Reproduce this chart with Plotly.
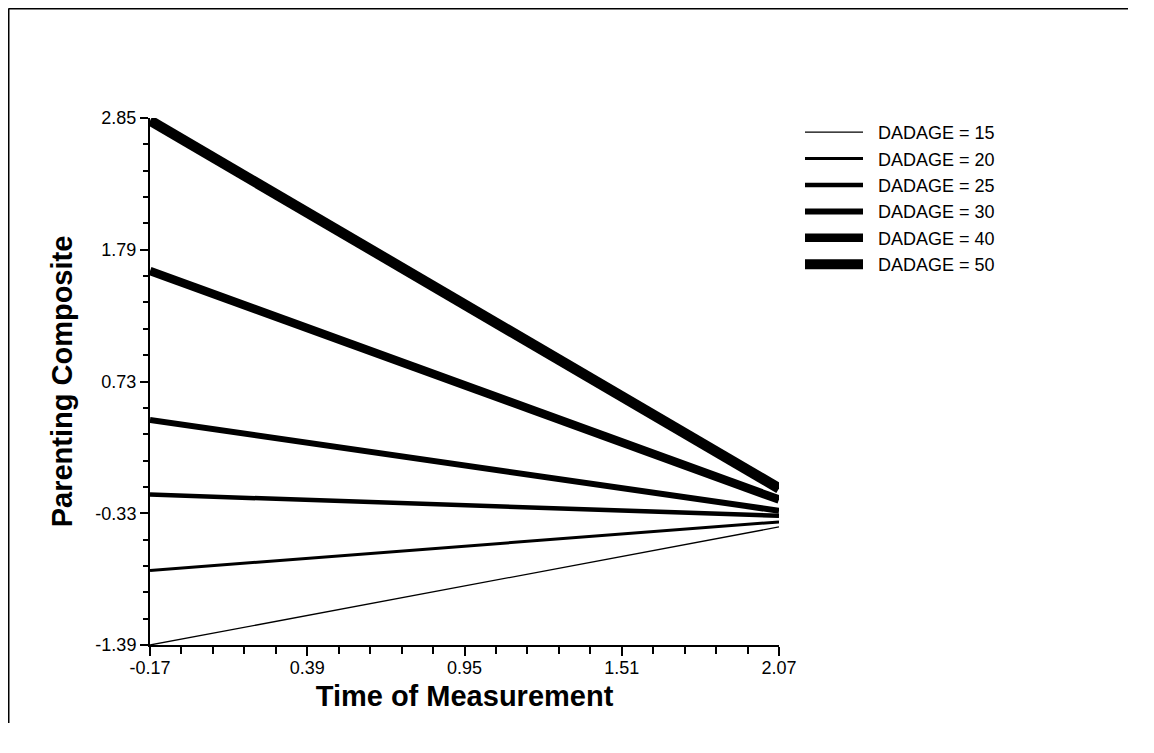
import plotly.graph_objects as go

# ---- data ----
dadage = [15, 20, 25, 30, 40, 50]
time_points = [-0.17, 2.07]
start_values = [-1.39, -0.79, -0.18, 0.42, 1.62, 2.83]   # at time = -0.17
end_values = [-0.44, -0.40, -0.35, -0.31, -0.22, -0.13]  # at time = 2.07

x_ticks = [-0.17, 0.39, 0.95, 1.51, 2.07]
y_ticks = [-1.39, -0.33, 0.73, 1.79, 2.85]

# ---- styling ----
line_widths = [1.3, 3, 4.5, 6, 8.5, 10.5]
FONT = "Liberation Sans, Arial, sans-serif"

# the page body adds an 8px margin, so the figure is laid out in its own coords
W, H = 1120, 715
L, T = 142, 110
PR, PB = 771, 637            # plot right / bottom in figure px
R, B = W - PR, H - PB
pw, ph = PR - L, PB - T


def px_x(v):
    return (v - L) / pw


def px_y(v):
    return (PB - v) / ph


fig = go.Figure()
for i, d in enumerate(dadage):
    fig.add_trace(go.Scatter(
        x=time_points,
        y=[start_values[i], end_values[i]],
        mode="lines",
        name="\u00a0\u00a0" + f"DADAGE = {d}",
        legendgroup=str(d),
        line=dict(color="black", width=line_widths[i]),
    ))

axis_common = dict(showgrid=False, zeroline=False, showline=True,
                   linecolor="black", linewidth=2, ticks="outside",
                   tickcolor="black", tickwidth=2,
                   tickfont=dict(family=FONT, size=18, color="black"))

fig.update_layout(
    width=W, height=H,
    margin=dict(l=L, r=R, t=T, b=B),
    paper_bgcolor="white", plot_bgcolor="white",
    font=dict(family=FONT, color="black"),
    xaxis=dict(range=[x_ticks[0], x_ticks[-1]], tickvals=x_ticks,
               ticktext=[f"{v:.2f}" for v in x_ticks], ticklen=9,
               ticklabelstandoff=-4,
               minor=dict(ticks="outside", ticklen=7, tickwidth=2,
                          tickcolor="black", dtick=0.112, tick0=-0.17),
               title=dict(text="<b>Time of Measurement</b>",
                          font=dict(family=FONT, size=29, color="black"),
                          standoff=9),
               **axis_common),
    yaxis=dict(range=[y_ticks[0], y_ticks[-1]], tickvals=y_ticks,
               ticktext=[f"{v:.2f}" for v in y_ticks], ticklen=8,
               minor=dict(ticks="outside", ticklen=5, tickwidth=2,
                          tickcolor="black", dtick=0.212, tick0=-1.39),
               title=dict(text="<b>Parenting Composite</b>",
                          font=dict(family=FONT, size=29, color="black"),
                          standoff=14),
               **axis_common),
    yaxis2=dict(range=[y_ticks[0], y_ticks[-1]], overlaying="y", anchor="x",
                side="left", showgrid=False, zeroline=False, showline=False,
                showticklabels=False, tickvals=y_ticks, ticks="",
                minor=dict(ticks="inside", ticklen=4, tickwidth=2,
                           tickcolor="black", dtick=0.212, tick0=-1.39)),
    legend=dict(x=px_x(792), y=px_y(106), xanchor="left",
                yanchor="top", bgcolor="rgba(0,0,0,0)",
                font=dict(family=FONT, size=18, color="black"),
                itemwidth=58, tracegroupgap=0),
    showlegend=True,
    shapes=[
        dict(type="line", xref="paper", yref="paper",
             x0=px_x(0.5), x1=px_x(0.5),
             y0=px_y(H + 10), y1=px_y(0.5),
             line=dict(color="black", width=2)),
        dict(type="line", xref="paper", yref="paper",
             x0=px_x(0.5), x1=px_x(W + 10),
             y0=px_y(0.5), y1=px_y(0.5),
             line=dict(color="black", width=2)),
    ],
)

fig.write_html("out.html")
